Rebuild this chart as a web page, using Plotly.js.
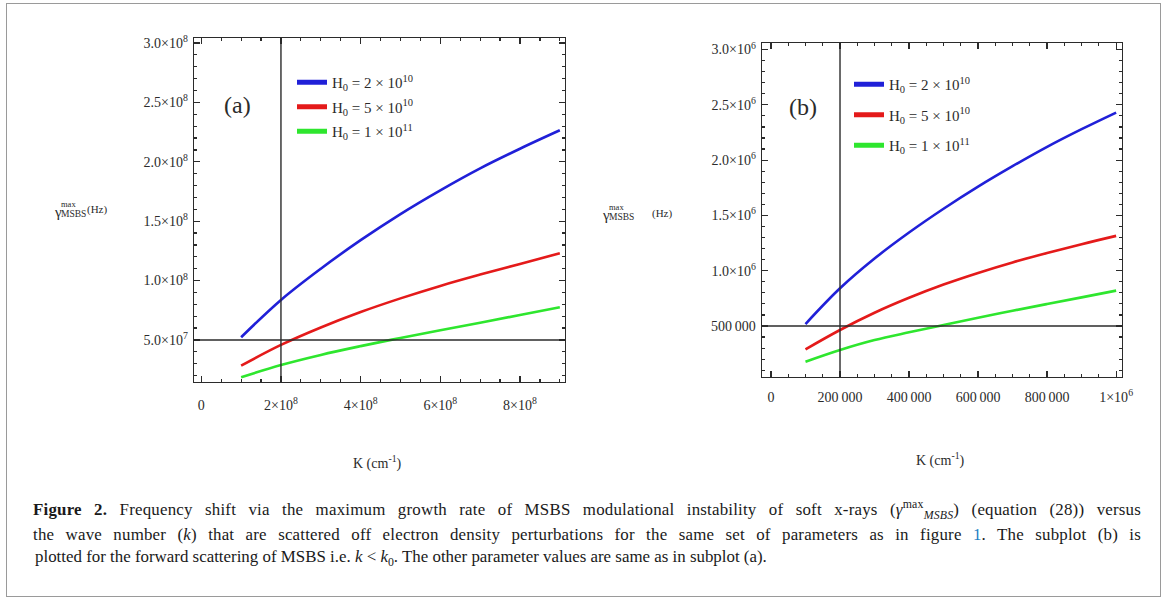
<!DOCTYPE html>
<html>
<head>
<meta charset="utf-8">
<script src="https://cdn.plot.ly/plotly-3.0.1.min.js"></script>
<style>
  html, body { margin: 0; padding: 0; background: #fff; }
  #wrap { position: relative; width: 1165px; height: 599px; }
  #chart { position: absolute; left: 0; top: 0; width: 1165px; height: 599px; }
  #frame { position: absolute; left: 6px; top: 3px; width: 1153px; height: 592px;
           border: 1.5px solid #9a9a9a; pointer-events: none; }
</style>
</head>
<body>
<div id="wrap"><div id="chart"></div><div id="frame"></div></div>
<script>
// ---------- data ----------
const kA = [1e8, 2e8, 3e8, 4e8, 5e8, 6e8, 7e8, 8e8, 9e8];
const blueA  = [5.23e7, 8.37e7, 1.10e8, 1.34e8, 1.56e8, 1.76e8, 1.945e8, 2.11e8, 2.265e8];
const redA   = [2.84e7, 4.58e7, 6.05e7, 7.35e7, 8.50e7, 9.55e7, 1.05e8, 1.14e8, 1.23e8];
const greenA = [1.86e7, 2.89e7, 3.74e7, 4.48e7, 5.17e7, 5.82e7, 6.45e7, 7.10e7, 7.75e7];

const kB = [1e5, 2e5, 3e5, 4e5, 5e5, 6e5, 7e5, 8e5, 9e5, 1e6];
const blueB  = [5.18e5, 8.41e5, 1.11e6, 1.345e6, 1.56e6, 1.76e6, 1.945e6, 2.12e6, 2.28e6, 2.43e6];
const redB   = [2.89e5, 4.64e5, 6.20e5, 7.55e5, 8.75e5, 9.80e5, 1.075e6, 1.16e6, 1.24e6, 1.315e6];
const greenB = [1.77e5, 2.83e5, 3.73e5, 4.43e5, 5.09e5, 5.75e5, 6.38e5, 6.99e5, 7.59e5, 8.20e5];

const seriesNames = ['H<sub>0</sub> = 2 × 10<sup>10</sup>', 'H<sub>0</sub> = 5 × 10<sup>10</sup>', 'H<sub>0</sub> = 1 × 10<sup>11</sup>'];

const xTickValsA = [0, 2e8, 4e8, 6e8, 8e8];
const xTickTextA = ['0', '2×10<sup>8</sup>', '4×10<sup>8</sup>', '6×10<sup>8</sup>', '8×10<sup>8</sup>'];
const yTickValsA = [5e7, 1e8, 1.5e8, 2e8, 2.5e8, 3e8];
const yTickTextA = ['5.0×10<sup>7</sup>', '1.0×10<sup>8</sup>', '1.5×10<sup>8</sup>', '2.0×10<sup>8</sup>', '2.5×10<sup>8</sup>', '3.0×10<sup>8</sup>'];

const xTickValsB = [0, 2e5, 4e5, 6e5, 8e5, 1e6];
const xTickTextB = ['0', '200\u2009000', '400\u2009000', '600\u2009000', '800\u2009000', '1×10<sup>6</sup>'];
const yTickValsB = [5e5, 1e6, 1.5e6, 2e6, 2.5e6, 3e6];
const yTickTextB = ['500\u2009000', '1.0×10<sup>6</sup>', '1.5×10<sup>6</sup>', '2.0×10<sup>6</sup>', '2.5×10<sup>6</sup>', '3.0×10<sup>6</sup>'];

const originA = [2e8, 5e7];   // Mathematica axes crossing point (a)
const originB = [2e5, 5e5];   // Mathematica axes crossing point (b)

const captionLines = [
  '<b>Figure 2.</b> Frequency shift via the maximum growth rate of MSBS modulational instability of soft x-rays (<i>γ</i><sup>max</sup><sub><i>MSBS</i></sub>) (equation (28)) versus',
  'the wave number (<i>k</i>) that are scattered off electron density perturbations for the same set of parameters as in figure <span style="color:#1f7fc4">1</span>. The subplot (b) is',
  'plotted for the forward scattering of MSBS i.e. <i>k</i> &lt; <i>k</i><sub>0</sub>. The other parameter values are same as in subplot (a).'
];

// ---------- style ----------
const colors = ['#2020d8', '#e41a1a', '#2ee62e'];
const SERIF = '"Liberation Serif", "DejaVu Serif", serif';
const INK = '#2b2b2b';
const W = 1165, H = 599;
const PX = p => p / W, PY = p => 1 - p / H;

const traces = [];
function addPanel(k, ys, xa, ya, legendId) {
  ys.forEach((y, i) => {
    traces.push({ x: k, y: y, xaxis: xa, yaxis: ya, type: 'scatter', mode: 'lines',
      line: { color: colors[i], width: 2.6, shape: 'spline', smoothing: 1 },
      showlegend: false, hoverinfo: 'skip' });
  });
  ys.forEach((y, i) => {
    traces.push({ x: [null], y: [null], xaxis: xa, yaxis: ya, type: 'scatter', mode: 'lines',
      name: seriesNames[i], legend: legendId, legendgroup: legendId + i,
      line: { color: colors[i], width: 5 }, showlegend: true });
  });
}
addPanel(kA, [blueA, redA, greenA], 'x', 'y', 'legend');
addPanel(kB, [blueB, redB, greenB], 'x2', 'y2', 'legend2');

function axis(extra) {
  return Object.assign({
    showgrid: false, zeroline: false, showline: true, linecolor: INK, linewidth: 1.4,
    mirror: 'ticks', ticks: 'inside', ticklen: 6, tickwidth: 1.2, tickcolor: INK,
    tickmode: 'array', tickfont: { family: SERIF, size: 14, color: INK },
    automargin: false, fixedrange: true
  }, extra);
}

const layout = {
  width: W, height: H,
  margin: { l: 0, r: 0, t: 0, b: 0 },
  paper_bgcolor: 'rgba(0,0,0,0)', plot_bgcolor: 'rgba(0,0,0,0)',
  showlegend: true,
  xaxis: axis({ domain: [PX(194), PX(565)], range: [-1.83e7, 9.13e8], anchor: 'y',
    tickvals: xTickValsA, ticktext: xTickTextA, ticklabelstandoff: 10,
    minor: { tickmode: 'linear', tick0: 0, dtick: 5e7, ticks: 'inside', ticklen: 3, tickcolor: INK } }),
  yaxis: axis({ domain: [PY(382), PY(38)], range: [1.46e7, 3.042e8], anchor: 'x',
    tickvals: yTickValsA, ticktext: yTickTextA, ticklabelstandoff: 2,
    minor: { tickmode: 'linear', tick0: 0, dtick: 1e7, ticks: 'inside', ticklen: 3, tickcolor: INK } }),
  xaxis2: axis({ domain: [PX(762), PX(1122)], range: [-2.6e4, 1.017e6], anchor: 'y2',
    tickvals: xTickValsB, ticktext: xTickTextB, ticklabelstandoff: 7,
    minor: { tickmode: 'linear', tick0: 0, dtick: 5e4, ticks: 'inside', ticklen: 3, tickcolor: INK } }),
  yaxis2: axis({ domain: [PY(377), PY(43)], range: [3.9e4, 3.059e6], anchor: 'x2',
    tickvals: yTickValsB, ticktext: yTickTextB, ticklabelstandoff: 2,
    minor: { tickmode: 'linear', tick0: 0, dtick: 1e5, ticks: 'inside', ticklen: 3, tickcolor: INK } }),
  legend: { x: PX(292), y: PY(66), xanchor: 'left', yanchor: 'top', bgcolor: 'rgba(0,0,0,0)',
    font: { family: SERIF, size: 15, color: INK }, tracegroupgap: 2, itemwidth: 30, itemclick: false },
  legend2: { x: PX(849), y: PY(68), xanchor: 'left', yanchor: 'top', bgcolor: 'rgba(0,0,0,0)',
    font: { family: SERIF, size: 15, color: INK }, tracegroupgap: 8, itemwidth: 30, itemclick: false },
  shapes: [
    { type: 'line', xref: 'x', yref: 'y domain', x0: originA[0], x1: originA[0], y0: 0, y1: 1, line: { color: INK, width: 1.4 } },
    { type: 'line', xref: 'x domain', yref: 'y', x0: 0, x1: 1, y0: originA[1], y1: originA[1], line: { color: INK, width: 1.4 } },
    { type: 'line', xref: 'x2', yref: 'y2 domain', x0: originB[0], x1: originB[0], y0: 0, y1: 1, line: { color: INK, width: 1.4 } },
    { type: 'line', xref: 'x2 domain', yref: 'y2', x0: 0, x1: 1, y0: originB[1], y1: originB[1], line: { color: INK, width: 1.4 } }
  ],
  annotations: []
};

function note(text, x, y, size, opts) {
  layout.annotations.push(Object.assign({
    text: text, xref: 'paper', yref: 'paper', x: PX(x), y: PY(y),
    xanchor: 'left', yanchor: 'middle', showarrow: false,
    font: { family: SERIF, size: size, color: INK }
  }, opts || {}));
  return layout.annotations.length - 1;
}

// panel labels
note('(a)', 238, 105, 24, { xanchor: 'center' });
note('(b)', 803, 107, 24, { xanchor: 'center' });

// y-axis titles (stacked super/subscript)
function yTitle(x0, y0, gap) {
  note('γ', x0, y0 + 2, 15);
  note('max', x0 + 7, y0 - 6, 8.5);
  note('MSBS', x0 + 7, y0 + 4, 9.5);
  note('(Hz)', x0 + 7 + 25 + gap, y0, 11);
}
yTitle(52, 210, 1);
yTitle(600, 213, 18);

// x-axis titles
note('K (cm<sup>-1</sup>)', 378, 462, 14, { xanchor: 'center' });
note('K (cm<sup>-1</sup>)', 940, 459, 14, { xanchor: 'center' });

// caption (lines 1 and 2 are justified in the reference)
const capFont = 16.9;
const capStyle = { font: { family: SERIF, size: capFont, color: '#1a1a1a' } };
const capLeft = 33, capRight = 1141;
const capIdx = [
  note(captionLines[0], capLeft, 509, capFont, capStyle),
  note(captionLines[1], capLeft, 534, capFont, capStyle),
  note(captionLines[2], capLeft, 558, capFont, capStyle)
];

Plotly.newPlot('chart', traces, layout, { displayModeBar: false, staticPlot: true }).then(gd => {
  const groups = gd.querySelectorAll('.annotation');
  [0, 1].forEach(j => {
    const g = groups[capIdx[j]];
    if (!g) return;
    const t = g.querySelector('text');
    if (!t) return;
    const txt = t.textContent;
    const nSpaces = (txt.match(/ /g) || []).length;
    if (!nSpaces) return;
    t.style.letterSpacing = '0.2px';
    const r0 = t.getBoundingClientRect();
    const extra = (capRight - capLeft) - r0.width;
    t.style.wordSpacing = Math.max(0, extra / nSpaces) + 'px';
    const r1 = t.getBoundingClientRect();
    const dx = capLeft - r1.left;
    const prev = t.getAttribute('transform') || '';
    t.setAttribute('transform', (prev + ' translate(' + dx + ',0)').trim());
  });
});
</script>
</body>
</html>
